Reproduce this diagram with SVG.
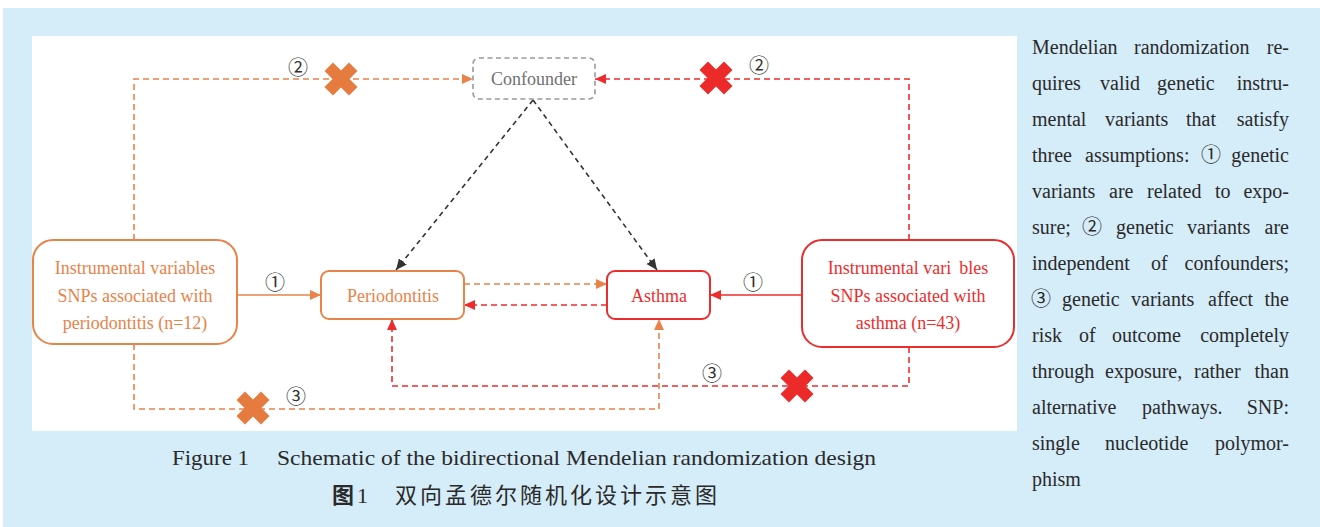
<svg xmlns="http://www.w3.org/2000/svg" xmlns:xlink="http://www.w3.org/1999/xlink" width="1320" height="527" viewBox="0 0 1320 527">
<style>
.serif{font-family:"Liberation Serif","Noto Sans CJK SC",serif}
.lbl{font-family:"Liberation Serif","Noto Sans CJK SC",serif;font-size:18px;fill:#333;text-anchor:middle}
.num{font-family:"Noto Sans CJK SC","DejaVu Sans",sans-serif;font-size:20px;fill:#333;text-anchor:middle}
.or{stroke:#e9834a;fill:none}
.rd{stroke:#ec2d2d;fill:none}
.dash{stroke-dasharray:6 4}
.para{font-family:"Liberation Serif",serif;font-size:20px;fill:#2a2a2a}
.pe{font-family:"Liberation Serif",serif;font-size:20px;fill:#2a2a2a;text-anchor:end}
.pc{font-family:"Noto Sans CJK SC",sans-serif;font-size:20px}
</style>
<defs>
<marker id="aO" markerUnits="userSpaceOnUse" markerWidth="12" markerHeight="12" refX="11" refY="5" orient="auto"><path d="M0,0 L11,5 L0,10 Z" fill="#e9834a"/></marker>
<marker id="aR" markerUnits="userSpaceOnUse" markerWidth="12" markerHeight="12" refX="11" refY="5" orient="auto"><path d="M0,0 L11,5 L0,10 Z" fill="#ec2d2d"/></marker>
<marker id="aK" markerUnits="userSpaceOnUse" markerWidth="12" markerHeight="12" refX="11" refY="5" orient="auto"><path d="M0,0 L11,5 L0,10 Z" fill="#333"/></marker>
<path id="xm" d="M-16.5,-8 L-8,-16.5 L0,-8.5 L8,-16.5 L16.5,-8 L8.5,0 L16.5,8 L8,16.5 L0,8.5 L-8,16.5 L-16.5,8 L-8.5,0 Z"/>
</defs>
<rect x="3" y="8" width="1317" height="519" fill="#d5ecf9"/>
<rect x="32" y="36" width="985" height="395" fill="#ffffff"/>

<g id="connectors" stroke-width="1.6">
<path class="or" d="M237,295 L321,295" marker-end="url(#aO)"/>
<path class="or dash" d="M134,240 L134,79 L473,79" marker-end="url(#aO)"/>
<path class="or dash" d="M464,284 L607,284" marker-end="url(#aO)"/>
<path class="or dash" d="M134,344 L134,409 L659,409 L659,319" marker-end="url(#aO)"/>
<path class="rd" d="M802,295 L710,295" marker-end="url(#aR)"/>
<path class="rd dash" d="M909,240 L909,79 L595,79" marker-end="url(#aR)"/>
<path class="rd dash" d="M607,305 L464,305" marker-end="url(#aR)"/>
<path class="rd dash" d="M909,347 L909,386 L392,386 L392,319" marker-end="url(#aR)"/>
<path d="M533,100 L396,270" stroke="#333" fill="none" stroke-dasharray="5 4" marker-end="url(#aK)"/>
<path d="M533,100 L657,270" stroke="#333" fill="none" stroke-dasharray="5 4" marker-end="url(#aK)"/>
<use xlink:href="#xm" x="341" y="79" fill="#e67b40"/>
<use xlink:href="#xm" x="716" y="78" fill="#ec2a2a"/>
<use xlink:href="#xm" x="253" y="408" fill="#e67b40"/>
<use xlink:href="#xm" x="797" y="386" fill="#ec2a2a"/>
<text class="num" x="298" y="75">②</text>
<text class="num" x="759" y="73">②</text>
<text class="num" x="275" y="290">①</text>
<text class="num" x="753" y="290">①</text>
<text class="num" x="296" y="404">③</text>
<text class="num" x="712" y="381">③</text>
</g>

<g id="confounder">
<rect x="473" y="58" width="122" height="41" rx="6" fill="none" stroke="#9a9a9a" stroke-width="1.6" stroke-dasharray="5 3.5"/>
<text class="lbl" x="534" y="85" style="fill:#707070">Confounder</text>
</g>
<g id="iv-perio">
<rect x="33" y="240" width="204" height="104" rx="20" fill="#fff" stroke="#e9834a" stroke-width="2"/>
<text class="lbl" style="fill:#e8834a" x="135" y="274">Instrumental variables</text>
<text class="lbl" style="fill:#e8834a" x="135" y="302">SNPs associated with</text>
<text class="lbl" style="fill:#e8834a" x="135" y="329">periodontitis (n=12)</text>
</g>
<g id="periodontitis">
<rect x="321" y="271" width="143" height="48" rx="8" fill="#fff" stroke="#e9834a" stroke-width="2"/>
<text class="lbl" style="fill:#e8834a" x="393" y="302">Periodontitis</text>
</g>
<g id="asthma">
<rect x="607" y="271" width="103" height="48" rx="8" fill="#fff" stroke="#ec2d2d" stroke-width="2"/>
<text class="lbl" style="fill:#ec2d2d" x="659" y="302">Asthma</text>
</g>
<g id="iv-asthma">
<rect x="802" y="240" width="212" height="107" rx="20" fill="#fff" stroke="#ec2d2d" stroke-width="2"/>
<text class="lbl" style="fill:#ec2d2d" x="908" y="274">Instrumental vari<tspan dx="8">bles</tspan></text>
<text class="lbl" style="fill:#ec2d2d" x="908" y="302">SNPs associated with</text>
<text class="lbl" style="fill:#ec2d2d" x="908" y="329">asthma (n=43)</text>
</g>

<g id="caption">
<text class="serif" x="172" y="465" font-size="21" fill="#2a2a2a" textLength="77" lengthAdjust="spacingAndGlyphs">Figure 1</text>
<text class="serif" x="277" y="465" font-size="21" fill="#2a2a2a" textLength="599" lengthAdjust="spacingAndGlyphs">Schematic of the bidirectional Mendelian randomization design</text>
<text x="332" y="503" font-size="22" font-weight="bold" fill="#2a2a2a" font-family="'Noto Sans CJK SC',sans-serif">图</text>
<text x="357" y="503" font-size="22" fill="#2a2a2a" font-family="'Liberation Serif',serif">1</text>
<text x="395" y="503" font-size="22" fill="#2a2a2a" font-family="'Noto Sans CJK SC',sans-serif" textLength="322" lengthAdjust="spacing">双向孟德尔随机化设计示意图</text>
</g>

<g id="note">
<text class="para" y="54"><tspan x="1032">Mendelian</tspan><tspan x="1134">randomization</tspan></text><text class="pe" x="1289" y="54">re-</text>
<text class="para" y="90"><tspan x="1032">quires</tspan><tspan x="1100">valid</tspan><tspan x="1157">genetic</tspan></text><text class="pe" x="1289" y="90">instru-</text>
<text class="para" y="126"><tspan x="1032">mental</tspan><tspan x="1105">variants</tspan><tspan x="1186">that</tspan></text><text class="pe" x="1289" y="126">satisfy</text>
<text class="para" y="162"><tspan x="1032">three</tspan><tspan x="1085">assumptions:</tspan><tspan x="1201" class="pc">①</tspan></text><text class="pe" x="1289" y="162">genetic</text>
<text class="para" y="198"><tspan x="1032">variants</tspan><tspan x="1109">are</tspan><tspan x="1147">related</tspan><tspan x="1215">to</tspan></text><text class="pe" x="1289" y="198">expo-</text>
<text class="para" y="234"><tspan x="1032">sure;</tspan><tspan x="1082" class="pc">②</tspan><tspan x="1116">genetic</tspan><tspan x="1187">variants</tspan></text><text class="pe" x="1289" y="234">are</text>
<text class="para" y="270"><tspan x="1032">independent</tspan><tspan x="1151">of</tspan></text><text class="pe" x="1289" y="270">confounders;</text>
<text class="para" y="306"><tspan x="1031" class="pc">③</tspan><tspan x="1062">genetic</tspan><tspan x="1131">variants</tspan><tspan x="1208">affect</tspan></text><text class="pe" x="1289" y="306">the</text>
<text class="para" y="342"><tspan x="1032">risk</tspan><tspan x="1079">of</tspan><tspan x="1112">outcome</tspan></text><text class="pe" x="1289" y="342">completely</text>
<text class="para" y="378"><tspan x="1032">through</tspan><tspan x="1105">exposure,</tspan><tspan x="1194">rather</tspan></text><text class="pe" x="1289" y="378">than</text>
<text class="para" y="414"><tspan x="1032">alternative</tspan><tspan x="1142">pathways.</tspan></text><text class="pe" x="1289" y="414">SNP:</text>
<text class="para" y="450"><tspan x="1032">single</tspan><tspan x="1105">nucleotide</tspan></text><text class="pe" x="1289" y="450">polymor-</text>
<text class="para" y="486"><tspan x="1032">phism</tspan></text>
</g>
</svg>
